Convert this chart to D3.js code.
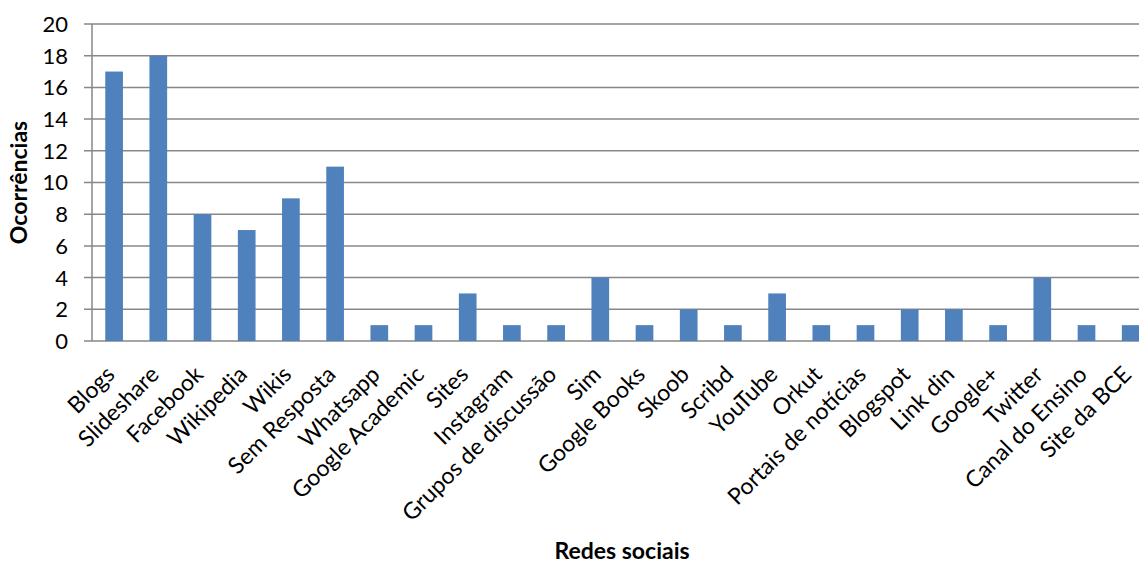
<!DOCTYPE html>
<html><head><meta charset="utf-8">
<script src="https://cdn.jsdelivr.net/npm/d3@7"></script>
<style>body{margin:0;background:#fff;overflow:hidden}</style>
</head><body>
<svg id="c" width="1139" height="563"></svg>
<script>
const categories = ["Blogs","Slideshare","Facebook","Wikipedia","Wikis","Sem Resposta","Whatsapp","Google Academic","Sites","Instagram","Grupos de discussão","Sim","Google Books","Skoob","Scribd","YouTube","Orkut","Portais de notícias","Blogspot","Link din","Google+","Twitter","Canal do Ensino","Site da BCE"];
const values = [17,18,8,7,9,11,1,1,3,1,1,4,1,2,1,3,1,1,2,2,1,4,1,1];
const yTicks = [0,2,4,6,8,10,12,14,16,18,20];
const yTitle = "Ocorrências";
const xTitle = "Redes sociais";

(function(){
const svg = d3.select("#c");
const font = "Lato, 'Open Sans', sans-serif";
const mLeft = 92, mTop = 24, mBottom = 341, bandW = 44.2;
const x = d3.scaleBand().domain(categories).range([mLeft, mLeft + bandW*categories.length]).paddingInner(0.6).paddingOuter(0.3);
const y = d3.scaleLinear().domain([0,20]).range([mBottom, mTop]);

svg.append("g").selectAll("line").data(yTicks).join("line")
  .attr("x1", mLeft-8).attr("x2", 1139).attr("y1", d=>y(d)).attr("y2", d=>y(d))
  .attr("stroke", "#878787").attr("stroke-width", 1.5);
svg.append("line").attr("x1", mLeft).attr("x2", mLeft).attr("y1", mTop).attr("y2", mBottom)
  .attr("stroke", "#878787").attr("stroke-width", 1.5);

svg.append("g").selectAll("rect").data(values).join("rect")
  .attr("x", (d,i)=>x(categories[i]))
  .attr("width", x.bandwidth())
  .attr("y", d=>y(d))
  .attr("height", d=>mBottom - y(d))
  .attr("fill", "#4F81BD");

svg.append("g").selectAll("text").data(yTicks).join("text")
  .attr("x", 68).attr("y", d=>y(d)).attr("dy", "0.36em")
  .attr("text-anchor", "end").attr("font-family", font).attr("font-size", 22).attr("fill", "#000")
  .text(d=>d);

svg.append("g").selectAll("text").data(categories).join("text")
  .attr("transform", d=>`translate(${x(d)+x.bandwidth()/2+2},${376}) rotate(-45)`)
  .attr("text-anchor", "end")
  .attr("font-family", font).attr("font-size", 23).attr("fill", "#000")
  .text(d=>d);

svg.append("text").attr("transform", `translate(27,${(mTop+mBottom)/2}) rotate(-90)`)
  .attr("text-anchor", "middle").attr("font-family", font).attr("font-weight", "bold")
  .attr("font-size", 23).text(yTitle);
svg.append("text").attr("x", 622).attr("y", 559)
  .attr("text-anchor", "middle").attr("font-family", font).attr("font-weight", "bold")
  .attr("font-size", 23).text(xTitle);
})();
</script>
</body></html>
